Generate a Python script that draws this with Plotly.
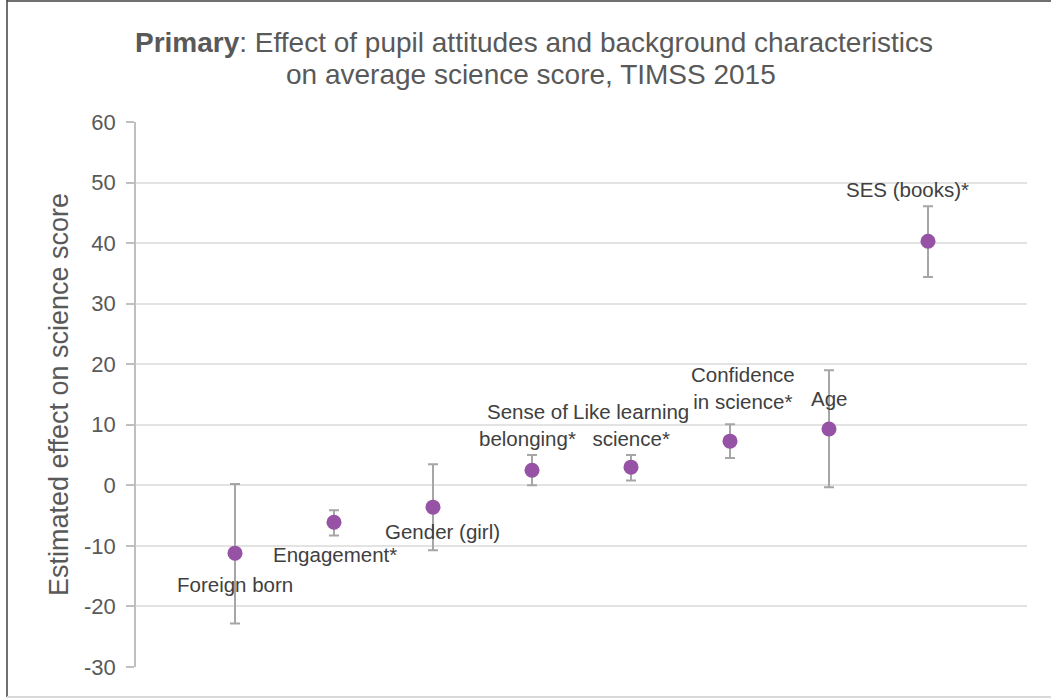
import plotly.graph_objects as go

# ---- data ----
categories = ["Foreign born", "Engagement*", "Gender (girl)", "Sense of belonging*",
              "Like learning science*", "Confidence in science*", "Age", "SES (books)*"]
estimates = [-11.2, -6.1, -3.6, 2.5, 3.0, 7.3, 9.3, 40.3]
upper = [0.2, -4.1, 3.5, 5.0, 5.0, 10.1, 19.0, 46.1]
lower = [-22.8, -8.3, -10.7, 0.0, 0.8, 4.5, -0.3, 34.4]
y_ticks = [-30, -20, -10, 0, 10, 20, 30, 40, 50, 60]
y_tick_labels = ["-30", "-20", "-10", "0", "10", "20", "30", "40", "50", "60"]

# label text (with line breaks) and placement relative to the points
label_text = ["Foreign born", "Engagement*", "Gender (girl)", "Sense of<br>belonging*",
              "Like learning<br>science*", "Confidence<br>in science*", "Age", "SES (books)*"]
label_dx = [0.0, 0.01, 0.1, -0.05, 0.0, 0.13, 0.0, -0.21]
label_dy = [-5.2, -5.4, -4.1, 7.5, 7.0, 8.8, 5.0, 8.5]

xpos = list(range(1, len(categories) + 1))
err_plus = [u - e for u, e in zip(upper, estimates)]
err_minus = [e - l for e, l in zip(estimates, lower)]

FONT = "Liberation Sans, Arial, sans-serif"

fig = go.Figure()
fig.add_trace(go.Scatter(
    x=xpos, y=estimates, mode="markers",
    marker=dict(color="#9652a4", size=15),
    error_y=dict(type="data", symmetric=False, array=err_plus, arrayminus=err_minus,
                 color="#a6a6a6", thickness=2, width=5),
    text=categories, hoverinfo="text+y", showlegend=False,
))

for xp, e, t, dx, dy in zip(xpos, estimates, label_text, label_dx, label_dy):
    fig.add_annotation(x=xp + dx, y=e + dy, xref="x", yref="y", text=t, showarrow=False,
                       font=dict(family=FONT, size=20.5, color="#404040"),
                       align="center", xanchor="center", yanchor="middle")

# title (two lines)
W, H = 1051, 698
L, R, T, B = 136, 24, 122, 31
pw, ph = W - L - R, H - T - B
def px_x(p):
    return (p - L) / pw
def px_y(p):
    return (H - B - p) / ph

fig.add_annotation(x=px_x(534), y=px_y(43), xref="paper", yref="paper", showarrow=False,
                   text="<b>Primary</b>: Effect of pupil attitudes and background characteristics",
                   font=dict(family=FONT, size=28, color="#595959"),
                   xanchor="center", yanchor="middle")
fig.add_annotation(x=px_x(531), y=px_y(75), xref="paper", yref="paper", showarrow=False,
                   text="on average science score, TIMSS 2015",
                   font=dict(family=FONT, size=28, color="#595959"),
                   xanchor="center", yanchor="middle")

# frame around the chart
fig.add_shape(type="line", xref="paper", yref="paper", x0=px_x(7), x1=px_x(7), y0=px_y(0), y1=px_y(697),
              line=dict(color="#404040", width=1.5))
fig.add_shape(type="line", xref="paper", yref="paper", x0=px_x(7), x1=px_x(1051), y0=px_y(1), y1=px_y(1),
              line=dict(color="#404040", width=1.5))
fig.add_shape(type="line", xref="paper", yref="paper", x0=px_x(7), x1=px_x(1051), y0=px_y(697), y1=px_y(697),
              line=dict(color="#d9d9d9", width=2))

fig.update_layout(
    width=W, height=H,
    margin=dict(l=L, r=R, t=T, b=B, autoexpand=False),
    paper_bgcolor="white", plot_bgcolor="white",
    font=dict(family=FONT, color="#595959"),
    xaxis=dict(range=[0, len(categories) + 1], showticklabels=False, showgrid=False,
               zeroline=False, showline=False, ticks=""),
    yaxis=dict(range=[-30, 60], tickvals=y_ticks, ticktext=y_tick_labels,
               ticks="outside", ticklen=8, tickcolor="#bfbfbf", ticklabelstandoff=6,
               tickwidth=1.5, showline=True, linecolor="#bfbfbf", linewidth=1.5,
               gridcolor="#e3e3e3", gridwidth=1.5, zeroline=False,
               tickfont=dict(size=22, color="#595959"),
               title=dict(text="Estimated effect on science score", standoff=8,
                          font=dict(size=27, color="#595959"))),
)

fig.write_html("out.html", config={"displayModeBar": False},
               post_script="document.body.style.margin='0';")
